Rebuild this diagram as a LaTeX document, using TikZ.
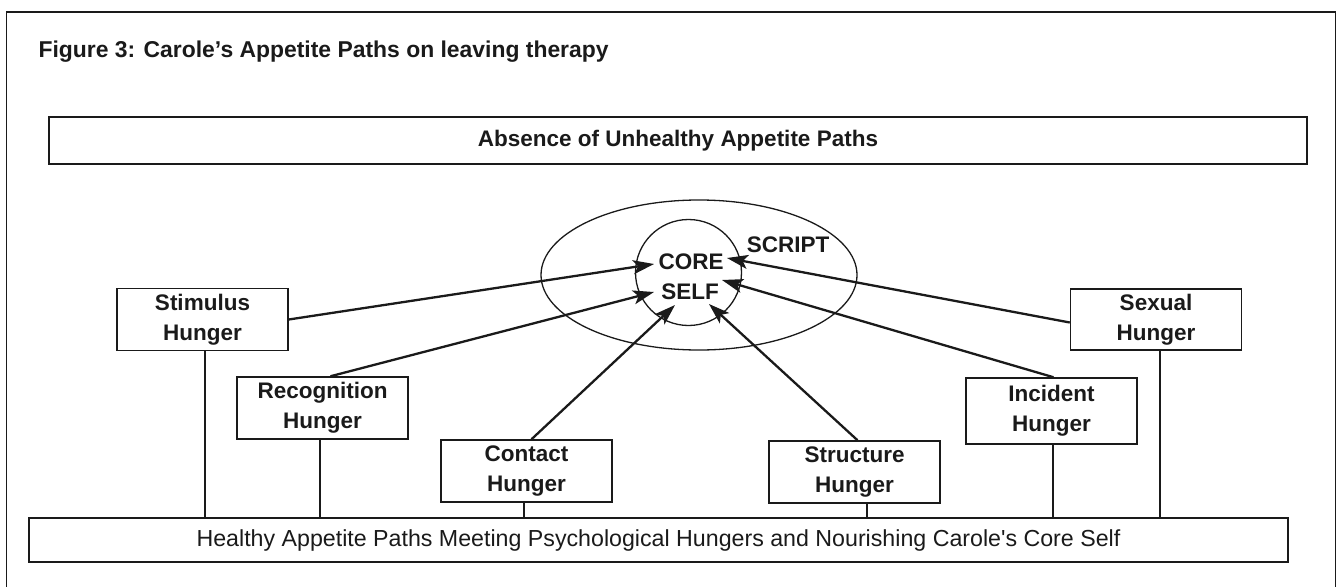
\documentclass[tikz,border=0pt]{standalone}
\usepackage{fontspec}
\setmainfont{Liberation Sans}
\usetikzlibrary{arrows.meta}
\definecolor{ink}{HTML}{1A1A1A}
\begin{document}
\begin{tikzpicture}[x=1pt, y=-1pt,
  every node/.style={text=ink, font=\fontsize{22.5}{30}\selectfont},
  hungerbox/.style={draw=ink, line width=1.5pt, minimum width=171pt, minimum height=62pt,
    inner sep=0pt, align=center, font=\fontsize{22.5}{30}\selectfont\bfseries},
  widebox/.style={draw=ink, line width=1.5pt, inner sep=0pt},
  feed/.style={draw=ink, line width=2.3pt, -{Stealth[length=21pt, width=14pt, inset=5pt]}},
  link/.style={draw=ink, line width=2pt},
  ring/.style={draw=ink, line width=1.3pt}]
\useasboundingbox (0,0) rectangle (1337,586);

% open frame around the figure
\draw[ink, line width=1.5pt] (6.5,590) -- (6.5,12) -- (1335.5,12) -- (1335.5,590);

% title
\node[anchor=base west, font=\fontsize{22.9}{28}\selectfont\bfseries] (title) at (35,57)
  {Figure 3: Carole’s Appetite Paths on leaving therapy};

% top and bottom bands
\node[widebox, minimum width=1258pt, minimum height=47pt, font=\fontsize{22.5}{28}\selectfont\bfseries]
  (absent) at (678,140.5) {Absence of Unhealthy Appetite Paths};
\node[widebox, minimum width=1259pt, minimum height=44pt, font=\fontsize{23.2}{28}\selectfont]
  (healthy) at (658.5,540) {Healthy Appetite Paths Meeting Psychological Hungers and Nourishing Carole\textquotesingle s Core Self};

% script ellipse and core self circle
\draw[ring] (699,275) ellipse [x radius=158pt, y radius=75pt];
\draw[ring] (688.5,272.5) circle [radius=53pt];
\node[font=\fontsize{22.5}{28}\selectfont\bfseries, inner sep=0pt] (core) at (691,262) {CORE};
\node[font=\fontsize{22.5}{28}\selectfont\bfseries, inner sep=0pt] (self) at (690,292) {SELF};
\node[font=\fontsize{22.5}{28}\selectfont\bfseries, inner sep=0pt] (script) at (788,245) {SCRIPT};

% hunger boxes
\node[hungerbox] (stim) at (202.5,319.5) {Stimulus\\Hunger};
\node[hungerbox] (recog) at (322.5,408) {Recognition\\Hunger};
\node[hungerbox] (contact) at (526.5,471) {Contact\\Hunger};
\node[hungerbox] (struct) at (854.5,472) {Structure\\Hunger};
\node[hungerbox, minimum height=66pt] (incid) at (1051.5,411) {Incident\\Hunger};
\node[hungerbox, minimum height=61pt] (sexual) at (1156,319.5) {Sexual\\Hunger};

% arrow tips around the core self
\coordinate (tStim) at (654,264);
\coordinate (tRecog) at (654,292);
\coordinate (tContact) at (675,305);
\coordinate (tStruct) at (709,304);
\coordinate (tIncid) at (722,280);
\coordinate (tSexual) at (727,258);

% appetite paths into the core self
\draw[feed] (stim.east) -- (tStim);
\draw[feed] ([xshift=8pt]recog.north) -- (tRecog);
\draw[feed] ([xshift=5pt]contact.north) -- (tContact);
\draw[feed] ([xshift=3pt]struct.north) -- (tStruct);
\draw[feed] ([xshift=2pt]incid.north) -- (tIncid);
\draw[feed] ([yshift=-3pt]sexual.west) -- (tSexual);

% each hunger rests on the healthy band
\draw[link] ([xshift=2.5pt]stim.south) -- ([xshift=2.5pt]stim.south |- healthy.north);
\draw[link] ([xshift=-2.5pt]recog.south) -- ([xshift=-2.5pt]recog.south |- healthy.north);
\draw[link] ([xshift=-2.5pt]contact.south) -- ([xshift=-2.5pt]contact.south |- healthy.north);
\draw[link] ([xshift=12.5pt]struct.south) -- ([xshift=12.5pt]struct.south |- healthy.north);
\draw[link] ([xshift=1.5pt]incid.south) -- ([xshift=1.5pt]incid.south |- healthy.north);
\draw[link] ([xshift=4pt]sexual.south) -- ([xshift=4pt]sexual.south |- healthy.north);
\end{tikzpicture}
\end{document}
